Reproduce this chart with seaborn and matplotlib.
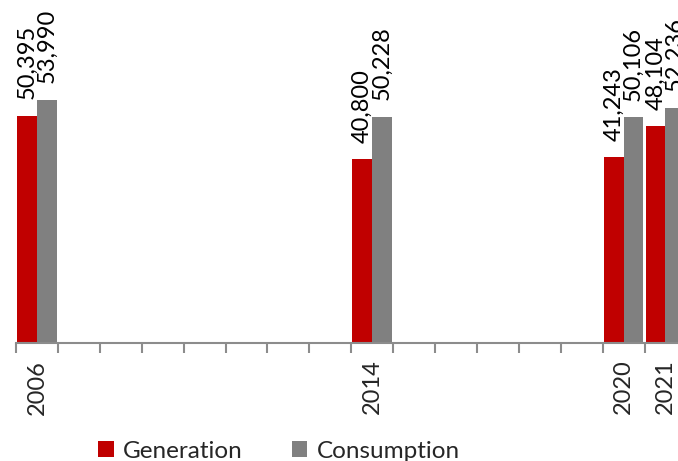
import matplotlib
matplotlib.use("Agg")
import matplotlib.pyplot as plt
from matplotlib.patches import Patch
from matplotlib.ticker import FixedLocator
import pandas as pd
import seaborn as sns

# Electricity generation and consumption by year
years = ["2006", "2014", "2020", "2021"]
generation = [50395, 40800, 41243, 48104]
consumption = [53990, 50228, 50106, 52236]
series = ["Generation", "Consumption"]
colors = ["#C00000", "#808080"]

# Full run of years on the axis, only some of which carry data
all_years = [str(y) for y in range(2006, 2022)]

df = pd.DataFrame({
    "year": years * 2,
    "series": [series[0]] * len(years) + [series[1]] * len(years),
    "value": generation + consumption,
})

sns.set_style("white")
plt.rcParams["font.family"] = ["Lato", "DejaVu Sans"]

fig = plt.figure(figsize=(6.78, 4.61), dpi=100)
ax = fig.add_axes([16 / 678, 118 / 461, 670.4 / 678, 343 / 461])

sns.barplot(
    data=df, x="year", y="value", hue="series",
    order=all_years, hue_order=series, palette=colors,
    width=0.94, gap=0, legend=False, ax=ax, errorbar=None,
    saturation=1, linewidth=0, edgecolor="none",
)

ax.set_xlim(-0.5, len(all_years) - 0.5)
ax.set_ylim(0, 76200)

for container in ax.containers:
    ax.bar_label(container, fmt="{:,.0f}", rotation=90, padding=12,
                 fontsize=17, color="black", clip_on=False)

# Year labels at slot centres, tick marks at slot boundaries
label_pos = [all_years.index(y) for y in years]
ax.set_xticks(label_pos)
ax.set_xticklabels(years, rotation=90, fontsize=17)
ax.tick_params(axis="x", which="major", length=0, pad=12)
ax.xaxis.set_minor_locator(FixedLocator([i - 0.5 for i in range(len(all_years) + 1)]))
ax.tick_params(axis="x", which="minor", length=7, width=1.5, color="#8C8C8C",
               direction="out", bottom=True)

ax.set_yticks([])
ax.set_xlabel("")
ax.set_ylabel("")
for s in ["left", "right", "top"]:
    ax.spines[s].set_visible(False)
ax.spines["bottom"].set_color("#8C8C8C")
ax.spines["bottom"].set_linewidth(1.5)

handles = [Patch(facecolor=c, edgecolor="none", label=s) for s, c in zip(series, colors)]
fig.legend(handles=handles, loc="center", bbox_to_anchor=(279 / 678, 1 - 451 / 461),
           ncol=2, frameon=False, fontsize=17.5, handlelength=0.65, handleheight=0.65,
           handletextpad=0.4, columnspacing=2.0, borderaxespad=0)

fig.savefig("out.png", dpi=100)
